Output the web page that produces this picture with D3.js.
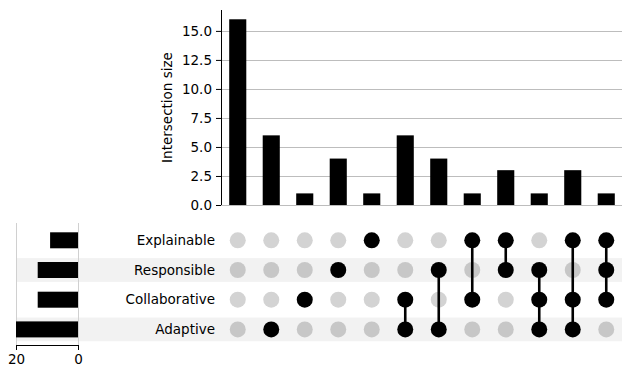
<!DOCTYPE html>
<html>
<head>
<meta charset="utf-8">
<script src="https://cdn.jsdelivr.net/npm/d3@7"></script>
<style>
  html, body { margin: 0; padding: 0; background: #fff; }
  svg { display: block; font-family: "DejaVu Sans", sans-serif; }
</style>
</head>
<body>
<svg id="chart" width="622" height="371"></svg>
<script>
// Sets, listed top to bottom in the matrix
const sets = ["Explainable", "Responsible", "Collaborative", "Adaptive"];
const setSizes = [9, 13, 13, 20];

// Each intersection: which sets take part, and how many items fall in it
const members = [
  [],
  ["Adaptive"],
  ["Collaborative"],
  ["Responsible"],
  ["Explainable"],
  ["Collaborative", "Adaptive"],
  ["Responsible", "Adaptive"],
  ["Explainable", "Collaborative"],
  ["Explainable", "Responsible"],
  ["Responsible", "Collaborative", "Adaptive"],
  ["Explainable", "Collaborative", "Adaptive"],
  ["Explainable", "Responsible", "Collaborative"]
];
const counts = [16, 6, 1, 4, 1, 6, 4, 1, 3, 1, 3, 1];

const yTicks = [0, 2.5, 5, 7.5, 10, 12.5, 15];
const sizeTicks = [20, 0];

const svg = d3.select("#chart");
const fontSize = 13.5;

// ---- scales ----
const cols = d3.range(counts.length);
const x = d3.scaleBand().domain(cols).range([221, 623]).paddingInner(0.49).paddingOuter(0.245);
const cx = i => x(i) + x.bandwidth() / 2;

const y = d3.scaleLinear().domain([0, 16.8]).range([205, 10]);

const rowY = d3.scalePoint().domain(sets).range([240.3, 329.4]);
const rowStep = rowY.step();

const sx = d3.scaleLinear().domain([0, 20]).range([78, 16]);

// ---- row shading ----
svg.append("g").selectAll("rect")
  .data(sets.filter((s, i) => i % 2 === 1))
  .join("rect")
  .attr("x", 16).attr("width", 606)
  .attr("y", s => rowY(s) - rowStep * 0.4)
  .attr("height", rowStep * 0.8)
  .attr("fill", "#f2f2f2");

// ---- intersection size bars ----
svg.append("g").selectAll("line")
  .data(yTicks)
  .join("line")
  .attr("x1", 221).attr("x2", 622)
  .attr("y1", d => Math.round(y(d)) + 0.5).attr("y2", d => Math.round(y(d)) + 0.5)
  .attr("stroke", "#bdbdbd").attr("stroke-width", 1);

svg.append("g").selectAll("rect")
  .data(counts)
  .join("rect")
  .attr("x", (d, i) => x(i))
  .attr("width", x.bandwidth())
  .attr("y", d => y(d))
  .attr("height", d => y(0) - y(d))
  .attr("fill", "#000");

const yAxis = svg.append("g")
  .attr("transform", "translate(221,0)")
  .call(d3.axisLeft(y).tickValues(yTicks).tickFormat(d3.format(".1f")).tickSize(5).tickSizeOuter(0));
yAxis.select(".domain").attr("stroke", "#000").attr("stroke-width", 1)
  .attr("d", `M0.5,${y(16.8)}V${y(0)}`);
yAxis.selectAll(".tick line").attr("stroke", "#000");
yAxis.selectAll(".tick text")
  .attr("font-size", fontSize).attr("font-family", "DejaVu Sans").attr("fill", "#000").attr("x", -9);

svg.append("text")
  .attr("transform", `translate(172,${(y(0) + y(16.8)) / 2}) rotate(-90)`)
  .attr("text-anchor", "middle")
  .attr("font-size", fontSize)
  .attr("fill", "#000")
  .text("Intersection size");

// ---- set size bars (left) ----
svg.append("g").selectAll("line")
  .data(sizeTicks)
  .join("line")
  .attr("x1", d => Math.round(sx(d)) + 0.5).attr("x2", d => Math.round(sx(d)) + 0.5)
  .attr("y1", 223).attr("y2", 345)
  .attr("stroke", "#d0d0d0").attr("stroke-width", 1);

svg.append("g").selectAll("rect")
  .data(sets)
  .join("rect")
  .attr("x", (s, i) => sx(setSizes[i]))
  .attr("width", (s, i) => sx(0) - sx(setSizes[i]))
  .attr("y", s => rowY(s) - 8)
  .attr("height", 16)
  .attr("fill", "#000");

const sAxis = svg.append("g")
  .attr("transform", "translate(0,345)")
  .call(d3.axisBottom(sx).tickValues(sizeTicks).tickFormat(d3.format("d")).tickSize(5).tickSizeOuter(0));
sAxis.select(".domain").attr("stroke", "#000");
sAxis.selectAll(".tick line").attr("stroke", "#000");
sAxis.selectAll(".tick text")
  .attr("font-size", fontSize).attr("font-family", "DejaVu Sans").attr("fill", "#000").attr("y", 9);

// ---- set labels ----
svg.append("g").selectAll("text")
  .data(sets)
  .join("text")
  .attr("x", 215)
  .attr("y", s => rowY(s))
  .attr("dy", "0.35em")
  .attr("text-anchor", "end")
  .attr("font-size", fontSize)
  .attr("fill", "#000")
  .text(s => s);

// ---- membership matrix: empty dots, then connectors, then filled dots ----
const emptyDots = svg.append("g");
const links = svg.append("g");
const fullDots = svg.append("g");
cols.forEach(i => {
  const m = members[i];
  if (m.length > 1) {
    const ys = m.map(s => rowY(s));
    links.append("line")
      .attr("x1", cx(i)).attr("x2", cx(i))
      .attr("y1", d3.min(ys)).attr("y2", d3.max(ys))
      .attr("stroke", "#000").attr("stroke-width", 2.6);
  }
  sets.forEach((s, r) => {
    const on = m.includes(s);
    (on ? fullDots : emptyDots).append("circle")
      .attr("cx", cx(i))
      .attr("cy", rowY(s))
      .attr("r", 8)
      .attr("fill", on ? "#000" : (r % 2 === 1 ? "#c7c7c7" : "#d3d3d3"));
  });
});
</script>
</body>
</html>
